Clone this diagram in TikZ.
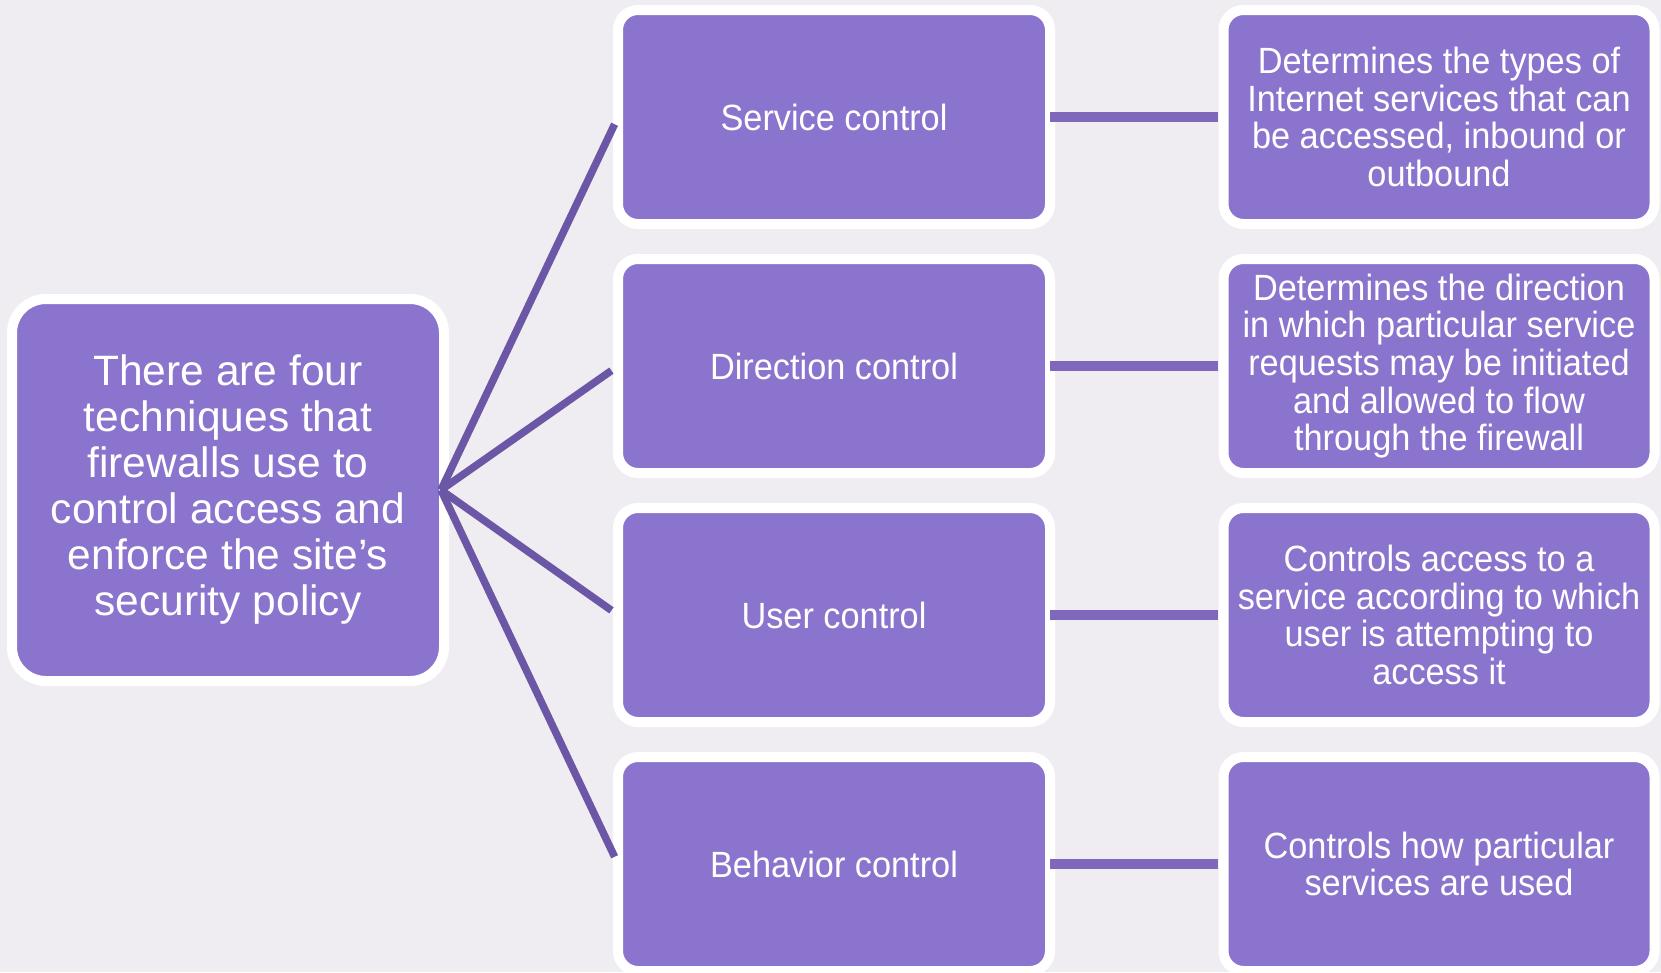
\documentclass[tikz,border=0pt]{standalone}
\usepackage{fontspec}
\setmainfont{Liberation Sans}
\newfontfamily\narrowfont[FakeStretch=0.94]{Liberation Sans}
\definecolor{paper}{HTML}{EFEDF1}
\definecolor{boxfill}{HTML}{8B74CD}
\definecolor{fanline}{HTML}{6C57A6}
\definecolor{barline}{HTML}{7F68BC}
\begin{document}
\begin{tikzpicture}[x=1pt, y=-1pt,
    box/.style={draw=white, line width=10pt, fill=boxfill, text=white, align=center,
                minimum width=432pt, minimum height=214pt, rounded corners=20pt,
                inner sep=0pt, outer sep=0pt},
    rootbox/.style={box, minimum height=382pt, rounded corners=34pt},
    fan/.style={-, color=fanline, line width=7.5pt, shorten >=8pt},
    bar/.style={-, color=barline, line width=10.5pt, shorten >=6pt}]
    \fill[paper] (0,0) rectangle (1661,972);
    \useasboundingbox (0,0) rectangle (1661,972);

    \node[rootbox, font=\fontsize{42.5}{46}\selectfont] at (228,490) (root)
        {There are four\\techniques that\\firewalls use to\\control access and\\enforce the site’s\\security policy};

    \node[box, font=\narrowfont\fontsize{36.5}{37.6}\selectfont] at (834,117) (m1) {Service control};
    \node[box, font=\narrowfont\fontsize{36.5}{37.6}\selectfont] at (834,366) (m2) {Direction control};
    \node[box, font=\narrowfont\fontsize{36.5}{37.6}\selectfont] at (834,615) (m3) {User control};
    \node[box, font=\narrowfont\fontsize{36.5}{37.6}\selectfont] at (834,864) (m4) {Behavior control};

    \node[box, minimum width=431pt, font=\narrowfont\fontsize{36.5}{37.6}\selectfont] at (1439,117) (d1)
        {Determines the types of\\Internet services that can\\be accessed, inbound or\\outbound};
    \node[box, minimum width=431pt, font=\narrowfont\fontsize{36.5}{37.6}\selectfont] at (1439,366) (d2)
        {Determines the direction\\in which particular service\\requests may be initiated\\and allowed to flow\\through the firewall};
    \node[box, minimum width=431pt, font=\narrowfont\fontsize{36.5}{37.6}\selectfont] at (1439,615) (d3)
        {Controls access to a\\service according to which\\user is attempting to\\access it};
    \node[box, minimum width=431pt, font=\narrowfont\fontsize{36.5}{37.6}\selectfont] at (1439,864) (d4)
        {Controls how particular\\services are used};

    \coordinate (hub) at ([xshift=-3pt]root.east);

    \draw[fan] (hub) to (m1.west);
    \draw[fan] (hub) to (m2.west);
    \draw[fan] (hub) to (m3.west);
    \draw[fan] (hub) to (m4.west);

    \draw[bar] (m1.east) to (d1.west);
    \draw[bar] (m2.east) to (d2.west);
    \draw[bar] (m3.east) to (d3.west);
    \draw[bar] (m4.east) to (d4.west);
  \end{tikzpicture}
\end{document}
